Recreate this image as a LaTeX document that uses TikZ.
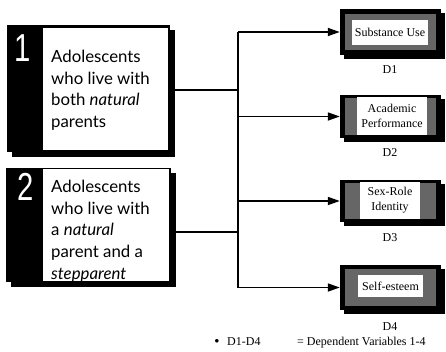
\documentclass[tikz,border=0pt]{standalone}
\usepackage{fontspec}
\setmainfont{Liberation Serif}
\newfontfamily\grpfont{Lato}
\newfontfamily\numfont{Liberation Sans}
\usetikzlibrary{arrows.meta,shadows}

\begin{document}
\begin{tikzpicture}[x=1pt,y=-1pt,
  conn/.style={line width=1.7pt},
  arr/.style={conn,-{Triangle[length=12pt,width=8pt]}},
  blackframe/.style={fill=black,inner sep=0pt,
    drop shadow={shadow xshift=#1,shadow yshift=-#1,fill=black,opacity=1}},
  panel/.style={fill=white,inner sep=0pt},
  stipple/.style={fill=black!60,inner sep=0pt},
  grptext/.style={inner sep=0pt,align=left,
    font=\grpfont\fontsize{16.8}{21.7}\selectfont},
  grpnum/.style={text=white,inner sep=0pt,xscale=0.75,
    font=\numfont\fontsize{39}{39}\selectfont},
  dtext/.style={inner sep=0pt,align=center,
    font=\fontsize{12}{15}\selectfont},
  dlabel/.style={inner sep=0pt,font=\fontsize{12}{14}\selectfont},
]
\useasboundingbox (0,0) rectangle (446,351);

% group 1
\node[blackframe=5pt,minimum width=163pt,minimum height=127pt] (g1) at (88.5,88.5) {};
\node[panel,minimum width=125pt,minimum height=122pt] (p1) at (105.5,89) {};
\node[grpnum] (n1) at (23,48) {1};
\node[grptext,anchor=north west] (t1) at (51,50) {Adolescents\\who live with\\both \textit{natural}\\parents};

% group 2
\node[blackframe=5pt,minimum width=165pt,minimum height=114pt] (g2) at (88.5,225) {};
\node[panel,minimum width=126pt,minimum height=112pt] (p2) at (106,224.5) {};
\node[grpnum] (n2) at (26,187) {2};
\node[grptext,anchor=north west] (t2) at (51,180) {Adolescents\\who live with\\a \textit{natural}\\parent and a\\\textit{stepparent}};

% dependent variable boxes
\node[blackframe=4pt,minimum width=101pt,minimum height=46pt] (d1) at (390.5,32) {};
\node[stipple,minimum width=91pt,minimum height=36pt] (s1) at (390.5,32) {};
\node[panel,minimum width=76pt,minimum height=25pt,dtext] (w1) at (390,32.5) {Substance Use};
\node[dlabel] (l1) at (390,70) {D1};

\node[blackframe=4pt,minimum width=101pt,minimum height=43pt] (d2) at (390.5,116.5) {};
\node[stipple,minimum width=91pt,minimum height=37pt] (s2) at (390.5,116.5) {};
\node[panel,minimum width=70pt,minimum height=38pt,dtext] (w2) at (392,116) {Academic\\Performance};
\node[dlabel] (l2) at (390,153) {D2};

\node[blackframe=4pt,minimum width=101pt,minimum height=42pt] (d3) at (390.5,201) {};
\node[stipple,minimum width=91pt,minimum height=36pt] (s3) at (390.5,201) {};
\node[panel,minimum width=60pt,minimum height=37pt,dtext] (w3) at (390,200.5) {Sex-Role\\Identity};
\node[dlabel] (l3) at (390,238) {D3};

\node[blackframe=4pt,minimum width=101pt,minimum height=45pt] (d4) at (390.5,287.5) {};
\node[stipple,minimum width=91pt,minimum height=37pt] (s4) at (390.5,287.5) {};
\node[panel,minimum width=65pt,minimum height=22pt,dtext] (w4) at (390.5,286) {Self-esteem};
\node[dlabel] (l4) at (390,327) {D4};

% connectors
\coordinate (j1) at (238,90);
\coordinate (j2) at (238,232);
\coordinate (bt) at (238,32);
\coordinate (bb) at (238,287.5);
\draw[conn] (g1.east |- j1) -- (j1);
\draw[conn] (g2.east |- j2) -- (j2);
\draw[conn] (bt) -- (bb);
\draw[arr] (bt) -- (d1.west);
\draw[arr] (d2.west -| bt) -- (d2.west);
\draw[arr] (d3.west -| bt) -- (d3.west);
\draw[arr] (bb) -- (d4.west);

% key
\node[inner sep=0pt,font=\fontsize{9}{9}\selectfont] (kb) at (217,341) {$\bullet$};
\node[inner sep=0pt,anchor=base west,font=\fontsize{12}{14}\selectfont] (kd) at (227,345) {D1-D4};
\node[inner sep=0pt,anchor=base west,font=\fontsize{12}{14}\selectfont] (kv) at (297,345) {= Dependent Variables 1-4};
\end{tikzpicture}
\end{document}
